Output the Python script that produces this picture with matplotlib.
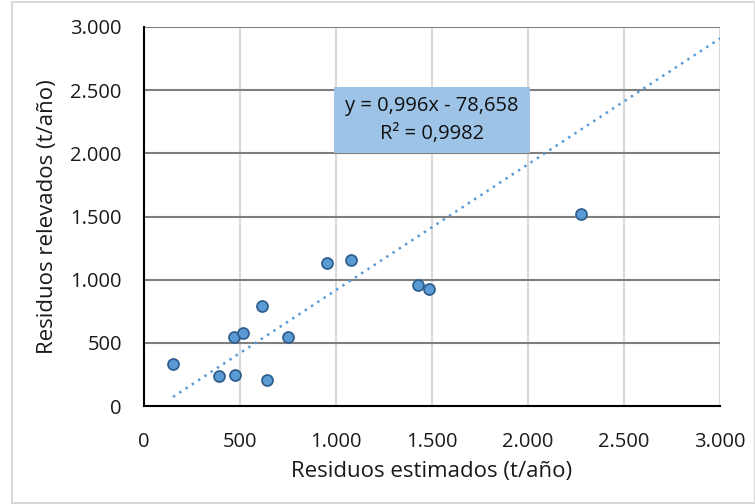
import matplotlib
matplotlib.use("Agg")
import matplotlib.pyplot as plt
from matplotlib.ticker import FuncFormatter
from matplotlib.patches import Rectangle
import numpy as np

x_est = [151, 391, 474, 642, 469, 514, 615, 748, 953, 1076, 1427, 1484, 2276]
y_rel = [332, 235, 243, 203, 543, 577, 788, 543, 1131, 1155, 957, 925, 1518]
slope = 0.996
intercept = -78.658
eq_text = "y = 0,996x - 78,658\nR² = 0,9982"
xlabel = "Residuos estimados (t/año)"
ylabel = "Residuos relevados (t/año)"
ticks = [0, 500, 1000, 1500, 2000, 2500, 3000]

plt.rcParams['font.family'] = ['Open Sans', 'DejaVu Sans']

fig = plt.figure(figsize=(7.55, 5.04), dpi=100)
ax = fig.add_axes([144/755, (504-406)/504, (720-144)/755, (406-27)/504])

fig.patches.append(Rectangle((12/755, 1/504), 1 - 12/755, 1 - 3/504, transform=fig.transFigure,
                             fill=False, edgecolor='#D9D9D9', linewidth=1.5))

ax.set_xlim(0, 3000)
ax.set_ylim(0, 3000)
ax.set_xticks(ticks)
ax.set_yticks(ticks)
fmt = FuncFormatter(lambda v, p: f"{int(v):,}".replace(",", "."))
ax.xaxis.set_major_formatter(fmt)
ax.yaxis.set_major_formatter(fmt)
ax.tick_params(length=0, labelsize=14.5, colors='#1a1a1a')
ax.tick_params(axis='x', pad=19)
ax.tick_params(axis='y', pad=16)

for v in ticks[1:]:
    ax.axvline(v, color='#D9D9D9', lw=1.5, zorder=0)
for v in ticks[1:]:
    ax.axhline(v, color='#7F7F7F', lw=1.5, zorder=0.5)

for s in ['top', 'right']:
    ax.spines[s].set_visible(False)
for s in ['left', 'bottom']:
    ax.spines[s].set_color('black')
    ax.spines[s].set_linewidth(1.5)

xt = np.array([min(x_est), 3000])
ax.plot(xt, slope * xt + intercept, linestyle=(0, (1, 2)), color='#5B9BD5', lw=1.8, zorder=2)

ax.scatter(x_est, y_rel, s=62, color='#5B9BD5', edgecolor='#2F5F8F', linewidth=1.3, zorder=3)

ax.add_patch(Rectangle((990, 2000), 1020, 525, facecolor='#9DC3E6', edgecolor='none', zorder=4))
ax.text(1500, 2262, eq_text, ha='center', va='center', fontsize=14.5, linespacing=1.5,
        color='#111111', zorder=5)

ax.set_xlabel(xlabel, fontsize=16, color='#1a1a1a', labelpad=6)
ax.set_ylabel(ylabel, fontsize=16, color='#1a1a1a', labelpad=9)

fig.savefig("out.png", dpi=100)
